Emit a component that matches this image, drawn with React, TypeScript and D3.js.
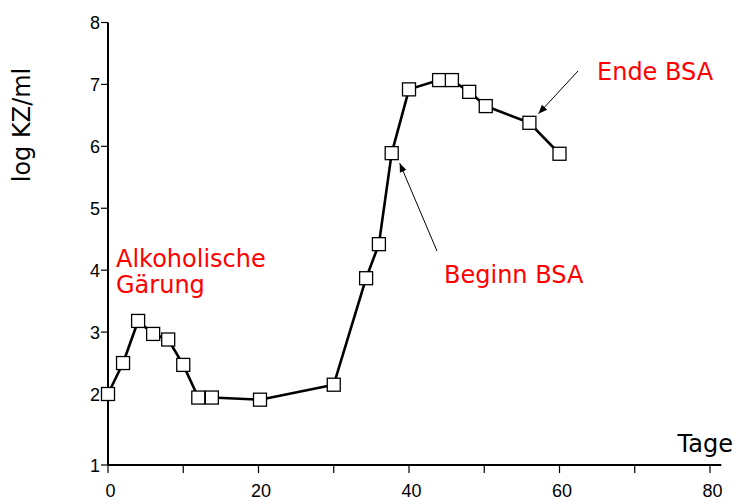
import React, { useRef, useEffect } from 'react';
import * as d3 from 'd3';

// days and log counts
const days = [0, 2, 4, 6, 8, 10, 12, 13.8, 20.2, 30, 34.3, 36, 37.7, 40, 44, 45.7, 48, 50.2, 56, 60];
const logKZ = [2.0, 2.5, 3.18, 2.97, 2.88, 2.47, 1.95, 1.95, 1.92, 2.15, 3.87, 4.42, 5.89, 6.92, 7.07, 7.07, 6.88, 6.65, 6.38, 5.88];
const yTicks = [1, 2, 3, 4, 5, 6, 7, 8];
const xTicks = [0, 10, 20, 30, 40, 50, 60, 70, 80];
const xLabels = [0, 20, 40, 60, 80];

function App() {
  const svgRef = useRef<SVGSVGElement>(null);

  useEffect(() => {
    const svg = d3.select(svgRef.current);
    svg.selectAll('*').remove();

    const width = 737;
    const height = 501;
    const tickFont = '"Liberation Sans Narrow", "Liberation Sans", Arial, sans-serif';
    const textFont = '"DejaVu Sans", Verdana, sans-serif';

    // the original axis has a wider gap between 1 and 2
    const x = d3.scaleLinear().domain([0, 80]).range([108, 710]);
    const y = d3.scaleLinear().domain([1, 2, 8]).range([465, 394, 22.5]);

    svg.attr('width', width).attr('height', height);

    const defs = svg.append('defs');
    defs.append('marker')
      .attr('id', 'arr')
      .attr('viewBox', '0 0 10 10')
      .attr('refX', 10)
      .attr('refY', 5)
      .attr('markerWidth', 9)
      .attr('markerHeight', 9)
      .attr('markerUnits', 'userSpaceOnUse')
      .attr('orient', 'auto')
      .append('path')
      .attr('d', 'M0,1 L10,5 L0,9 Z')
      .attr('fill', '#000');

    // y axis
    svg.append('line')
      .attr('x1', x(0)).attr('x2', x(0))
      .attr('y1', y(8)).attr('y2', y(1))
      .attr('stroke', '#000').attr('stroke-width', 2);
    svg.selectAll('.ytick')
      .data(yTicks)
      .enter()
      .append('line')
      .attr('x1', x(0) - 7).attr('x2', x(0))
      .attr('y1', d => y(d)).attr('y2', d => y(d))
      .attr('stroke', '#000').attr('stroke-width', 1.2);
    svg.selectAll('.ylab')
      .data(yTicks)
      .enter()
      .append('text')
      .attr('x', x(0) - 8)
      .attr('y', d => y(d) + 6.5)
      .attr('text-anchor', 'end')
      .attr('font-family', tickFont)
      .attr('font-size', 18)
      .text(d => d);

    // x axis
    svg.append('line')
      .attr('x1', x(0)).attr('x2', x(81.5))
      .attr('y1', y(1)).attr('y2', y(1))
      .attr('stroke', '#000').attr('stroke-width', 2);
    svg.selectAll('.xtick')
      .data(xTicks)
      .enter()
      .append('line')
      .attr('x1', d => x(d)).attr('x2', d => x(d))
      .attr('y1', y(1)).attr('y2', y(1) + 8)
      .attr('stroke', '#000').attr('stroke-width', 1.2);
    svg.selectAll('.xlab')
      .data(xLabels)
      .enter()
      .append('text')
      .attr('x', d => x(d) + 2.5)
      .attr('y', 497)
      .attr('text-anchor', 'middle')
      .attr('font-family', tickFont)
      .attr('font-size', 18)
      .text(d => d);

    // axis titles
    svg.append('text')
      .attr('transform', `translate(30, 125) rotate(-90)`)
      .attr('text-anchor', 'middle')
      .attr('font-family', textFont)
      .attr('font-size', 24)
      .text('log KZ/ml');
    svg.append('text')
      .attr('x', 733)
      .attr('y', 452)
      .attr('text-anchor', 'end')
      .attr('font-family', textFont)
      .attr('font-size', 24)
      .text('Tage');

    // data line and markers
    const pts: [number, number][] = days.map((d, i) => [d, logKZ[i]]);
    const line = d3.line<[number, number]>()
      .x(d => x(d[0]))
      .y(d => y(d[1]));
    svg.append('path')
      .datum(pts)
      .attr('d', line)
      .attr('fill', 'none')
      .attr('stroke', '#000')
      .attr('stroke-width', 2.6)
      .attr('stroke-linejoin', 'round');

    const s = 13;
    svg.selectAll('.pt')
      .data(pts)
      .enter()
      .append('rect')
      .attr('x', d => x(d[0]) - s / 2)
      .attr('y', d => y(d[1]) - s / 2)
      .attr('width', s)
      .attr('height', s)
      .attr('fill', '#fff')
      .attr('stroke', '#000')
      .attr('stroke-width', 1.3);

    // annotations
    const red = '#ff0000';
    const alk = svg.append('text')
      .attr('font-family', textFont)
      .attr('font-size', 24)
      .attr('fill', red);
    alk.append('tspan').attr('x', 116).attr('y', 267).text('Alkoholische');
    alk.append('tspan').attr('x', 116).attr('y', 292.5).text('Gärung');

    svg.append('text')
      .attr('x', 444)
      .attr('y', 283)
      .attr('font-family', textFont)
      .attr('font-size', 24)
      .attr('fill', red)
      .text('Beginn BSA');
    svg.append('text')
      .attr('x', 597)
      .attr('y', 79.5)
      .attr('font-family', textFont)
      .attr('font-size', 24)
      .attr('fill', red)
      .text('Ende BSA');

    // arrows to the points they point at
    svg.append('line')
      .attr('x1', 437).attr('y1', 251)
      .attr('x2', x(37.7) + 8).attr('y2', y(5.89) + 10)
      .attr('stroke', '#000').attr('stroke-width', 1)
      .attr('marker-end', 'url(#arr)');
    svg.append('line')
      .attr('x1', 578).attr('y1', 71)
      .attr('x2', x(56) + 9).attr('y2', y(6.38) - 9)
      .attr('stroke', '#000').attr('stroke-width', 1)
      .attr('marker-end', 'url(#arr)');
  }, []);

  return (
    <div style={{ position: 'absolute', left: 0, top: 0 }}>
      <svg ref={svgRef}></svg>
    </div>
  );
}

export default App;
